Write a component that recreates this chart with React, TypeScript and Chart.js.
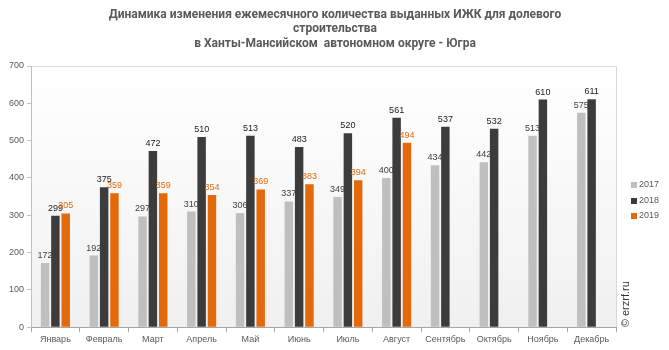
import React, { useEffect, useRef } from "react";
import { Chart, registerables } from "chart.js";

Chart.register(...registerables);

const months = ["Январь", "Февраль", "Март", "Апрель", "Май", "Июнь", "Июль", "Август", "Сентябрь", "Октябрь", "Ноябрь", "Декабрь"];
const values2017 = [172, 192, 297, 310, 306, 337, 349, 400, 434, 442, 513, 575];
const values2018 = [299, 375, 472, 510, 513, 483, 520, 561, 537, 532, 610, 611];
const values2019: (number | null)[] = [305, 359, 359, 354, 369, 383, 394, 494, null, null, null, null];
const seriesNames = ["2017", "2018", "2019"];
const seriesColors = ["#bfbfbf", "#3c3c3c", "#e3690b"];
const labelColors = ["#404040", "#1a1a1a", "#e3690b"];
const titleLines = [
  "Динамика изменения ежемесячного количества выданных ИЖК для долевого",
  "строительства",
  "в Ханты-Мансийском  автономном округе - Югра",
];
const watermark = "© erzrf.ru";

const FONT = "'Liberation Sans', Arial, sans-serif";

const decorPlugin = {
  id: "decor",
  beforeDraw(chart: any) {
    const { ctx, chartArea: a } = chart;
    ctx.save();
    const g = ctx.createLinearGradient(0, a.top, 0, a.bottom);
    g.addColorStop(0, "#ffffff");
    g.addColorStop(1, "#f0f0f0");
    ctx.fillStyle = g;
    ctx.fillRect(a.left, a.top, a.right - a.left, a.bottom - a.top);
    ctx.strokeStyle = "#d9d9d9";
    ctx.lineWidth = 1;
    ctx.beginPath();
    ctx.moveTo(a.left, a.top + 0.5);
    ctx.lineTo(a.right + 0.5, a.top + 0.5);
    ctx.lineTo(a.right + 0.5, a.bottom);
    ctx.stroke();
    ctx.restore();
  },
  afterDraw(chart: any) {
    const { ctx, chartArea: a } = chart;
    ctx.save();
    // title
    ctx.fillStyle = "#595959";
    ctx.font = "bold 12px Roboto, sans-serif";
    ctx.textAlign = "center";
    ctx.textBaseline = "middle";
    const ys = [15, 29, 44];
    titleLines.forEach((t, i) => ctx.fillText(t, 335, ys[i]));
    // value labels
    ctx.font = "9px " + FONT;
    ctx.textBaseline = "bottom";
    chart.data.datasets.forEach((ds: any, di: number) => {
      const meta = chart.getDatasetMeta(di);
      meta.data.forEach((bar: any, i: number) => {
        const v = ds.data[i];
        if (v == null) return;
        ctx.fillStyle = labelColors[di];
        ctx.fillText(String(v), bar.x, bar.y - 3);
      });
    });
    // legend
    const ly = [185, 201, 216];
    ctx.textAlign = "left";
    ctx.textBaseline = "middle";
    seriesNames.forEach((n, i) => {
      ctx.fillStyle = seriesColors[i];
      ctx.fillRect(631, ly[i] - 3, 6, 6);
      ctx.fillStyle = "#595959";
      ctx.fillText(n, 639, ly[i]);
    });
    // watermark
    ctx.translate(626, a.bottom);
    ctx.rotate(-Math.PI / 2);
    ctx.fillStyle = "#333333";
    ctx.font = "11px " + FONT;
    ctx.textAlign = "left";
    ctx.textBaseline = "middle";
    ctx.fillText(watermark, 0, 0);
    ctx.restore();
  },
};

export default function App() {
  const ref = useRef<HTMLCanvasElement>(null);
  useEffect(() => {
    if (!ref.current) return;
    const mk = (d: (number | null)[], i: number) => ({
      label: seriesNames[i],
      data: d,
      backgroundColor: seriesColors[i],
      borderWidth: 0,
      categoryPercentage: 0.635,
      barPercentage: 0.82,
    });
    const chart = new Chart(ref.current, {
      type: "bar",
      data: {
        labels: months,
        datasets: [mk(values2017, 0), mk(values2018, 1), mk(values2019, 2)],
      },
      plugins: [decorPlugin],
      options: {
        animation: false,
        responsive: false,
        layout: { padding: { top: 66, right: 53, left: 6, bottom: 3 } },
        plugins: { legend: { display: false }, title: { display: false }, tooltip: { enabled: false } },
        scales: {
          x: {
            grid: { drawOnChartArea: false, drawTicks: true, tickLength: 5, color: "#a6a6a6", offset: true },
            border: { color: "#a6a6a6" },
            ticks: { color: "#595959", font: { size: 9, family: FONT }, padding: 2, maxRotation: 0 },
          },
          y: {
            min: 0,
            max: 700,
            grid: { drawOnChartArea: false, drawTicks: true, tickLength: 4, color: "#bfbfbf" },
            border: { color: "#bfbfbf" },
            ticks: { stepSize: 100, color: "#595959", font: { size: 9, family: FONT }, padding: 3 },
          },
        },
      },
    });
    return () => chart.destroy();
  }, []);
  return (
    <div style={{ position: "absolute", left: 0, top: 0, width: 669, height: 350, background: "#fff" }}>
      <canvas ref={ref} width={669} height={350} style={{ display: "block" }} />
    </div>
  );
}
